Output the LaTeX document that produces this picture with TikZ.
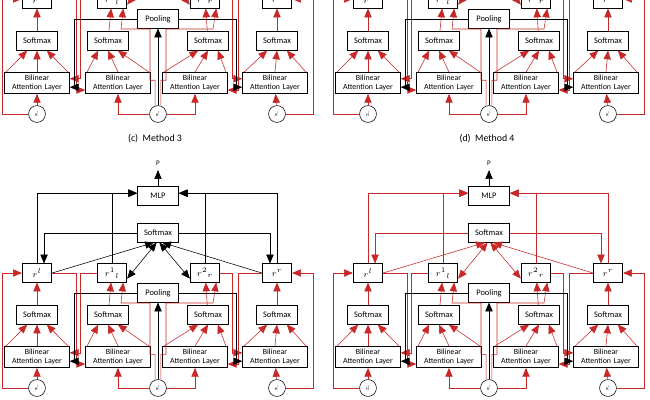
\documentclass[tikz,border=0pt]{standalone}
\usepackage{tikz}
\usetikzlibrary{shapes,arrows}
\usepackage{fontspec}
\setmainfont{Carlito}
\definecolor{redline}{RGB}{200,40,40}

\tikzset{
  box/.style={draw,semithick,fill=white,minimum width=29pt,minimum height=13pt,inner sep=1pt,font=\fontsize{6}{6}\selectfont},
  bil/.style={box,text width=44pt,minimum width=46pt,minimum height=15pt,inner sep=0pt,align=center,font=\fontsize{5.6}{6}\selectfont},
  hcirc/.style={draw,circle,minimum size=12pt,inner sep=0pt,fill=white,font=\fontsize{3}{3}\selectfont},
  low/.style={redline,-triangle 45},
}

% one panel: #1 x shift, #2 y shift, #3 colour of the upper part, #4 prefix
\newcommand{\panel}[4]{
\begin{scope}[shift={(#1,#2)}]
  \node[box] (#4mlp) at (158,-196) {MLP};
  \node (#4p) at (158,-163) {\tiny P};
  \node[box] (#4sm) at (158,-233) {Softmax};
  \node[box,minimum width=21pt] (#4rl) at (37,-273) {$r^l$};
  \node[box,minimum width=21pt] (#4rla) at (112,-273) {$r^1{}_l$};
  \node[box,minimum width=21pt] (#4rrb) at (205,-273) {$r^2{}_r$};
  \node[box,minimum width=21pt] (#4rr) at (277,-273) {$r^r$};
  \node[box] (#4pool) at (158,-293) {Pooling};
  \node[box] (#4sa) at (37,-315) {Softmax};
  \node[box] (#4sb) at (108,-315) {Softmax};
  \node[box] (#4sc) at (208,-315) {Softmax};
  \node[box] (#4sd) at (277,-315) {Softmax};
  \node[bil] (#4ba) at (37,-357) {Bilinear\\Attention Layer};
  \node[bil] (#4bb) at (118,-357) {Bilinear\\Attention Layer};
  \node[bil] (#4bc) at (195,-357) {Bilinear\\Attention Layer};
  \node[bil] (#4bd) at (275,-357) {Bilinear\\Attention Layer};
  \node[hcirc] (#4ha) at (37,-388) {H\textsuperscript{l}};
  \node[hcirc] (#4hb) at (158,-388) {H\textsuperscript{t}};
  \node[hcirc] (#4hc) at (277,-388) {H\textsuperscript{r}};

  % upper part
  \draw[-triangle 45] (#4mlp) -- (#4p);
  \draw[#3,-triangle 45] (#4rl.north) |- ([yshift=2]#4mlp.west);
  \draw[#3,-triangle 45] (#4rla.north) |- ([yshift=2]#4mlp.west);
  \draw[#3,-triangle 45] (#4rr.north) |- ([yshift=2]#4mlp.east);
  \draw[#3,-triangle 45] (#4rrb.north) |- ([yshift=2]#4mlp.east);
  \draw[#3,-triangle 45] (#4sm.west) -| ([xshift=5]#4rl.north);
  \draw[#3,-triangle 45] (#4sm.east) -| ([xshift=-5]#4rr.north);
  \draw[#3,-triangle 45] (#4rl.east) -- ([xshift=-3]#4sm.south);
  \draw[#3,triangle 45-triangle 45] ([yshift=-4]#4rla.east) -- ([xshift=-1]#4sm.south);
  \draw[#3,triangle 45-triangle 45] ([yshift=-4]#4rrb.west) -- ([xshift=1]#4sm.south);
  \draw[#3,-triangle 45] (#4rr.west) -- ([xshift=3]#4sm.south);

  % lower part
  \foreach \s/\b/\r in {sa/ba/rl,sb/bb/rla,sc/bc/rrb,sd/bd/rr}{
    \draw[low] (#4\s) -- (#4\r);
    \draw[low] ([xshift=-22]#4\b.north) -- ([xshift=-7]#4\s.south);
    \draw[low] (#4\b.north) -- (#4\s.south);
    \draw[low] ([xshift=22]#4\b.north) -- ([xshift=7]#4\s.south);
  }
  \draw[low] (#4ha) -- (#4ba);
  \draw[low] (#4hc) -- (#4bd);
  \draw[low] (#4ha.west) -- (2,-388) |- (#4rl.west);
  \draw[low] (#4hc.east) -- (313,-388) |- (#4rr.east);
  \draw[low] (#4hb.west) -| (#4bb.south);
  \draw[low] (#4hb.east) -| (#4bc.south);
  \draw[-triangle 45] (#4hb.north) -- (#4pool.south);
  \draw[low] ([xshift=-2]#4hb.north) -- ++(0,25) -| (150,-303) -- (121,-303) -- ([xshift=8]#4rla.south);
  \draw[low] ([xshift=2]#4hb.north) -- ++(0,25) -| (166,-303) -- (213,-303) -- ([xshift=8]#4rrb.south);
  \draw[low] (#4rl.east) -- (76,-273) |- ([yshift=-5]#4bb.west);
  \draw[low] (#4rla.west) -- (80,-273) |- ([yshift=3]#4ba.east);
  \draw[-triangle 45] (#4pool.west) -- (74,-293) |- ([yshift=-3]#4ba.east);
  \draw[low] (#4rr.west) -- (238,-273) |- ([yshift=-5]#4bc.east);
  \draw[low] (#4rrb.east) -- (232,-273) |- ([yshift=3]#4bd.west);
  \draw[-triangle 45] (#4pool.east) -- (236,-293) |- ([yshift=-3]#4bd.west);
\end{scope}
}

\begin{document}
\begin{tikzpicture}[x=0.025cm,y=0.025cm]
  \useasboundingbox (0,0) rectangle (650,-400);
  \clip (0,0) rectangle (650,-400);
  \panel{0}{274}{redline}{tl}
  \panel{331}{274}{redline}{tr}
  \panel{0}{0}{black}{bl}
  \panel{331}{0}{redline}{br}
  \node[font=\scriptsize] (capc) at (155,-139) {(c)\ \ Method 3};
  \node[font=\scriptsize] (capd) at (487,-139) {(d)\ \ Method 4};
\end{tikzpicture}
\end{document}
